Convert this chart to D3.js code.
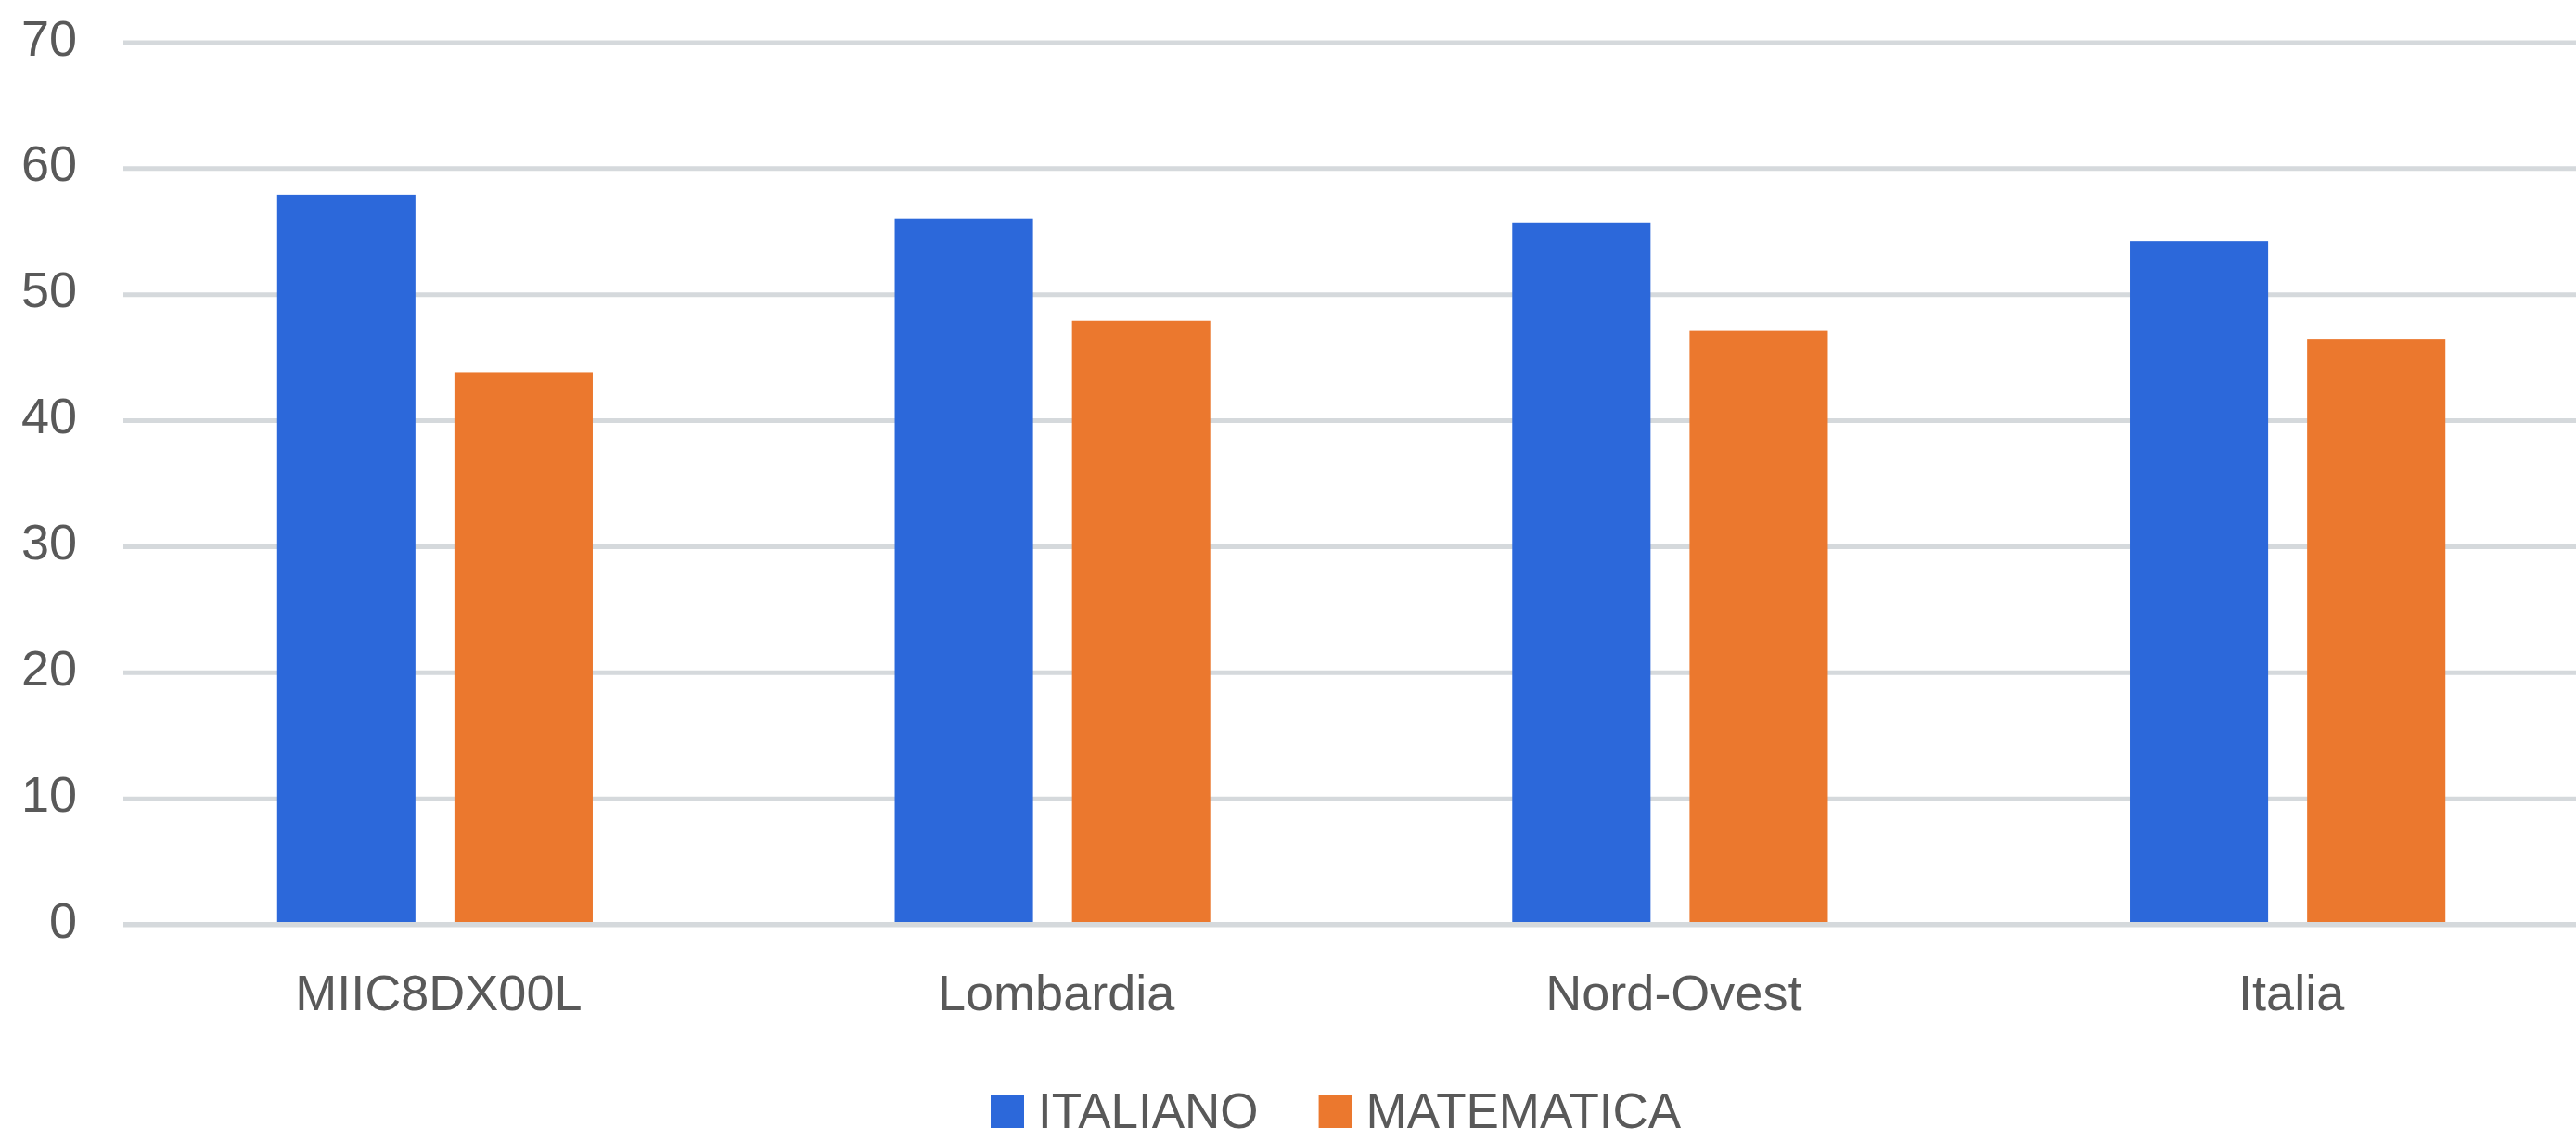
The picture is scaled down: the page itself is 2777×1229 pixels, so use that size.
<!DOCTYPE html>
<meta charset="utf-8">
<script src="https://d3js.org/d3.v7.min.js"></script>
<style>
    body { margin: 0; background: #fff; }
    text { font-family: "Liberation Sans", Arial, sans-serif; fill: #595959; }
</style>
<div id="chart_area"></div>

<script>

    // chart data
    let categories = ["MIIC8DX00L", "Lombardia", "Nord-Ovest", "Italia"];
    let seriesNames = ["ITALIANO", "MATEMATICA"];
    let italianoValues = [57.9, 56.0, 55.7, 54.2];
    let matematicaValues = [43.8, 47.9, 47.1, 46.4];
    let yTicks = [0, 10, 20, 30, 40, 50, 60, 70];

    let colors = {"ITALIANO": "#2c68da", "MATEMATICA": "#eb782e"};

    let width = 2777;
    let height = 1229;
    let gridLeft = 133;

    let svg = d3.select("#chart_area")
                .append("svg")
                    .attr("width", width)
                    .attr("height", height);

    // scales
    let y = d3.scaleLinear()
              .domain([0, 70])
              .range([996.5, 45.5]);

    let x0 = d3.scaleBand()
               .domain(categories)
               .range([136, 2799])
               .paddingInner(0.489)
               .paddingOuter(0.2445);

    let x1 = d3.scaleBand()
               .domain(seriesNames)
               .range([0, x0.bandwidth()])
               .paddingInner(0.22);

    // gridlines + y labels
    let yAxis = svg.append("g")
        .attr("transform", "translate(" + gridLeft + ",0)")
        .call(d3.axisLeft(y)
                .tickValues(yTicks)
                .tickSize(-(width - gridLeft))
                .tickPadding(50));

    yAxis.select(".domain").remove();
    yAxis.selectAll(".tick line")
        .attr("stroke", "#d5d9dc")
        .attr("stroke-width", 5);
    yAxis.selectAll(".tick text")
        .attr("dy", "0.25em")
        .style("font-size", "54px");

    // bars
    let rows = categories.map((c, i) => ({
        category: c,
        values: [
            {key: "ITALIANO", value: italianoValues[i]},
            {key: "MATEMATICA", value: matematicaValues[i]}
        ]
    }));

    let groups = svg.selectAll("g.group")
        .data(rows)
        .enter()
        .append("g")
            .attr("class", "group")
            .attr("transform", d => "translate(" + x0(d.category) + ",0)");

    groups.selectAll("rect")
        .data(d => d.values)
        .enter()
        .append("rect")
            .attr("x", d => x1(d.key))
            .attr("y", d => y(d.value))
            .attr("width", x1.bandwidth())
            .attr("height", d => y(0) - y(d.value))
            .attr("fill", d => colors[d.key]);

    // baseline sits over the bars
    svg.append("line")
        .attr("x1", gridLeft)
        .attr("x2", width)
        .attr("y1", y(0))
        .attr("y2", y(0))
        .attr("stroke", "#d5d9dc")
        .attr("stroke-width", 5);

    // category labels
    let xAxis = svg.append("g")
        .attr("transform", "translate(0," + y(0) + ")")
        .call(d3.axisBottom(x0).tickSize(0).tickPadding(54));

    xAxis.select(".domain").remove();
    xAxis.selectAll(".tick text")
        .attr("dx", "4px")
        .style("font-size", "54px");

    // legend
    let legend = svg.append("g")
        .attr("transform", "translate(1068,1216)");

    let legendX = 0;
    seriesNames.forEach(name => {
        legend.append("rect")
            .attr("x", legendX)
            .attr("y", -35)
            .attr("width", 36)
            .attr("height", 35)
            .attr("fill", colors[name]);

        let label = legend.append("text")
            .attr("x", legendX + 51)
            .attr("y", 0)
            .style("font-size", "53px")
            .text(name);

        legendX += 51 + label.node().getComputedTextLength() + 65;
    });

</script>
